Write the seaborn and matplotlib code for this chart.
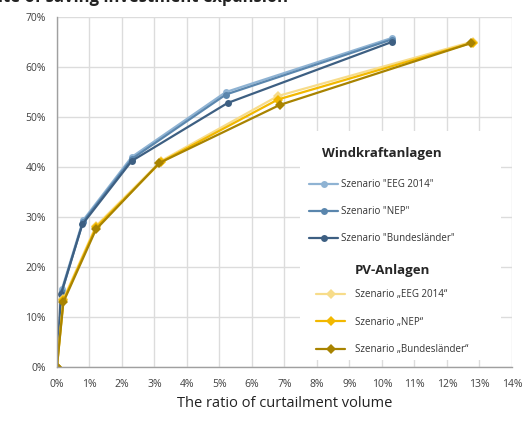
import numpy as np
import pandas as pd
import seaborn as sns
import matplotlib.pyplot as plt
from matplotlib.patches import Rectangle

# curtailment ratio (%) vs. rate of saving investment expansion (%)
wind_eeg_x = [0, 0.15, 0.8, 2.3, 5.2, 10.3]
wind_eeg_y = [0, 15.5, 29.3, 42.0, 55.0, 65.8]
wind_nep_x = [0, 0.15, 0.8, 2.3, 5.2, 10.3]
wind_nep_y = [0, 15.0, 29.0, 41.6, 54.5, 65.5]
wind_bl_x = [0, 0.12, 0.78, 2.3, 5.25, 10.3]
wind_bl_y = [0, 14.5, 28.5, 41.2, 52.8, 65.0]

pv_eeg_x = [0, 0.2, 1.2, 3.2, 6.8, 12.8]
pv_eeg_y = [0, 13.6, 28.2, 41.2, 54.2, 65.1]
pv_nep_x = [0, 0.2, 1.2, 3.2, 6.8, 12.8]
pv_nep_y = [0, 13.3, 27.9, 41.0, 53.5, 64.9]
pv_bl_x = [0, 0.2, 1.2, 3.15, 6.85, 12.75]
pv_bl_y = [0, 13.0, 27.5, 40.8, 52.4, 64.8]

wind_labels = ['Szenario "EEG 2014"', 'Szenario "NEP"', 'Szenario "Bundesländer"']
pv_labels = ['Szenario \u201eEEG 2014\u201c', 'Szenario \u201eNEP\u201c', 'Szenario \u201eBundesländer\u201c']
wind_colors = ["#8fb3d3", "#5a86ad", "#3d5f82"]
pv_colors = ["#f7dc8a", "#f2b800", "#a88300"]

x_ticks = list(range(0, 15))
y_ticks = list(range(0, 80, 10))

series = [
    (wind_labels[0], wind_eeg_x, wind_eeg_y),
    (wind_labels[1], wind_nep_x, wind_nep_y),
    (wind_labels[2], wind_bl_x, wind_bl_y),
    (pv_labels[0], pv_eeg_x, pv_eeg_y),
    (pv_labels[1], pv_nep_x, pv_nep_y),
    (pv_labels[2], pv_bl_x, pv_bl_y),
]
rows = []
for name, xs, ys in series:
    for x, y in zip(xs, ys):
        rows.append({"scenario": name, "x": x, "y": y})
df = pd.DataFrame(rows)

sns.set_style("white")
plt.rcParams["font.family"] = ["Open Sans", "DejaVu Sans"]

fig = plt.figure(figsize=(5.27, 4.34), dpi=100)
ax = fig.add_axes([0.108, 0.1544, 0.8635, 0.8064])

palette = dict(zip(wind_labels + pv_labels, wind_colors + pv_colors))
markers = dict(zip(wind_labels + pv_labels, ["o"] * 3 + ["D"] * 3))
sns.lineplot(
    data=df, x="x", y="y", hue="scenario", style="scenario",
    palette=palette, markers=markers, dashes=False, sort=False,
    linewidth=1.6, markersize=5, markeredgewidth=0, legend=False, ax=ax,
)

ax.set_xlim(0, 14)
ax.set_ylim(0, 70)
ax.set_xticks(x_ticks)
ax.set_xticklabels([f"{t}%" for t in x_ticks])
ax.set_yticks(y_ticks)
ax.set_yticklabels([f"{t}%" for t in y_ticks])
ax.grid(True, color="#dcdcdc", linewidth=1)
ax.set_axisbelow(True)
for s in ["top", "right"]:
    ax.spines[s].set_visible(False)
for s in ["left", "bottom"]:
    ax.spines[s].set_color("#a0a0a0")
    ax.spines[s].set_linewidth(1)
ax.tick_params(axis="both", labelsize=7.5, colors="#404040", length=0, pad=9)
ax.tick_params(axis="y", pad=8)
ax.set_xlabel("The ratio of curtailment volume", fontsize=10.5, color="#222222", labelpad=4)
ax.set_ylabel("")

# white panel behind the legends
ax.add_patch(Rectangle((0.535, 0.02), 0.44, 0.655, transform=ax.transAxes,
                       facecolor="white", edgecolor="none", zorder=3))

lines = ax.get_lines()
leg1 = ax.legend(lines[:3], wind_labels, loc="upper left", bbox_to_anchor=(0.535, 0.655),
                 frameon=False, fontsize=7, title="Windkraftanlagen",
                 title_fontproperties={"weight": "bold", "size": 9.5},
                 handlelength=3.0, labelspacing=1.65, handletextpad=0.3)
ax.add_artist(leg1)
leg2 = ax.legend(lines[3:6], pv_labels, loc="upper left", bbox_to_anchor=(0.55, 0.32),
                 frameon=False, fontsize=7, title="PV-Anlagen",
                 title_fontproperties={"weight": "bold", "size": 9.5},
                 handlelength=3.0, labelspacing=1.7, handletextpad=1.0)
leg1._legend_box.sep = 14
leg2._legend_box.sep = 9
for leg in (leg1, leg2):
    leg.set_zorder(4)
    for t in leg.get_texts():
        t.set_color("#333333")

# title is cut off at the top edge of the image
fig.text(-0.035, 1.008, "Rate of saving investment expansion", fontsize=12,
         fontweight="bold", color="#222222", ha="left", va="center")

fig.savefig("out.png", dpi=100)
